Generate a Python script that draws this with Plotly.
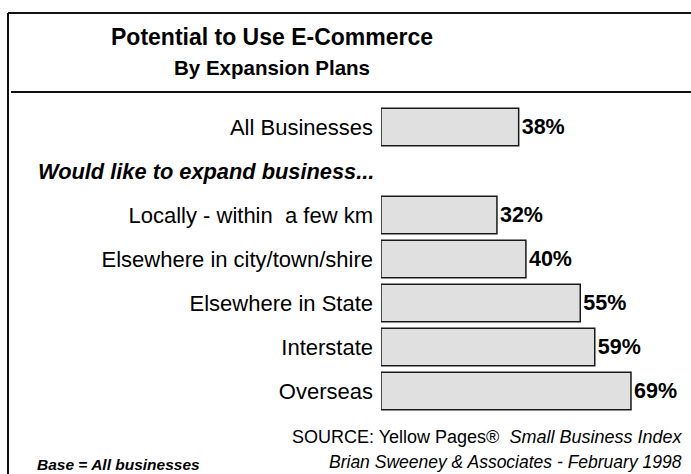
import plotly.graph_objects as go

# ---- data ---------------------------------------------------------------
heading = "Would like to expand business..."
overall_label = "All Businesses"
overall_value = 38
plan_labels = [
    "Locally - within\u00a0\u00a0a few km",
    "Elsewhere in city/town/shire",
    "Elsewhere in State",
    "Interstate",
    "Overseas",
]
plan_values = [32, 40, 55, 59, 69]

# ---- page geometry (pixels) ---------------------------------------------
W, H = 691, 474
PLOT_L, PLOT_R = 381, 691
PLOT_T, PLOT_B = 105, 413
FONT = "Liberation Sans, Arial, sans-serif"
PX_PER_PCT = 3.623


def px_x(px):
    return (px - PLOT_L) / (PLOT_R - PLOT_L)


def px_y(py):
    return (PLOT_B - py) / (PLOT_B - PLOT_T)


# heading row sits between the overall bar and the expansion-plan bars
categories = [overall_label, heading] + plan_labels
values = [overall_value, None] + plan_values
texts = [f"{v}%" if v is not None else "" for v in values]

fig = go.Figure(
    go.Bar(
        y=categories,
        x=values,
        orientation="h",
        text=texts,
        textposition="outside",
        constraintext="none",
        cliponaxis=False,
        textfont=dict(family=FONT, size=21.5, color="black", weight="bold"),
        marker=dict(color="#E0E0E0", line=dict(color="#1a1a1a", width=1.5)),
        hoverinfo="skip",
    )
)

tick_cats = [overall_label] + plan_labels
fig.update_yaxes(
    type="category",
    categoryorder="array",
    categoryarray=categories,
    autorange="reversed",
    tickmode="array",
    tickvals=tick_cats,
    ticktext=tick_cats,
    tickfont=dict(family=FONT, size=22, color="black"),
    ticks="",
    ticklabelstandoff=7,
    showgrid=False,
    zeroline=False,
    showline=False,
)
fig.update_xaxes(
    range=[0, (PLOT_R - PLOT_L) / PX_PER_PCT],
    visible=False,
    fixedrange=True,
)

# frame and title rule
line = dict(color="#111111", width=2)
shapes = [
    dict(type="line", xref="paper", yref="paper",
         x0=px_x(8), x1=px_x(8), y0=px_y(13), y1=px_y(480), line=line),
    dict(type="line", xref="paper", yref="paper",
         x0=px_x(8), x1=px_x(700), y0=px_y(13), y1=px_y(13), line=line),
    dict(type="line", xref="paper", yref="paper",
         x0=px_x(11), x1=px_x(700), y0=px_y(92), y1=px_y(92), line=line),
]

annotations = [
    dict(text="<b>Potential to Use E-Commerce</b>", x=px_x(272), y=px_y(37),
         xanchor="center", yanchor="middle",
         font=dict(family=FONT, size=23, color="black")),
    dict(text="<b>By Expansion Plans</b>", x=px_x(272), y=px_y(67),
         xanchor="center", yanchor="middle",
         font=dict(family=FONT, size=20.5, color="black")),
    dict(text=f"<b><i>{heading}</i></b>", x=px_x(36), y=px_y(171),
         xanchor="left", yanchor="middle",
         font=dict(family=FONT, size=21.8, color="black")),
    dict(text="SOURCE: Yellow Pages®\u00a0\u00a0<i>Small Business Index</i>",
         x=px_x(684), y=px_y(437), xanchor="right", yanchor="middle",
         font=dict(family=FONT, size=18, color="black")),
    dict(text="<i>Brian Sweeney & Associates - February 1998</i>",
         x=px_x(684), y=px_y(462), xanchor="right", yanchor="middle",
         font=dict(family=FONT, size=17.5, color="black")),
    dict(text="<b><i>Base = All businesses</i></b>",
         x=px_x(35), y=px_y(464), xanchor="left", yanchor="middle",
         font=dict(family=FONT, size=15.5, color="black")),
]
for a in annotations:
    a.update(xref="paper", yref="paper", showarrow=False)

fig.update_layout(
    width=W,
    height=H,
    margin=dict(l=PLOT_L, r=W - PLOT_R, t=PLOT_T, b=H - PLOT_B, pad=0),
    paper_bgcolor="white",
    plot_bgcolor="white",
    bargap=0.15,
    showlegend=False,
    shapes=shapes,
    annotations=annotations,
)

fig.write_html("out.html")
